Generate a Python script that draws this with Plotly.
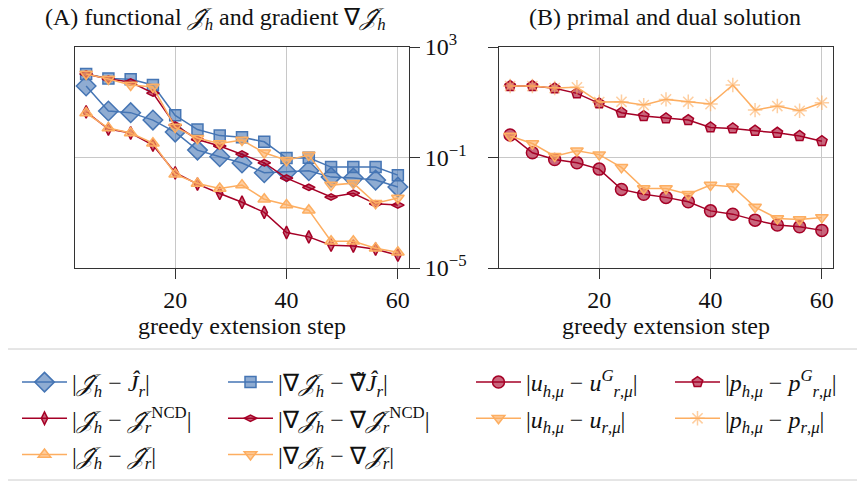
import plotly.graph_objects as go

steps = [4, 8, 12, 16, 20, 24, 28, 32, 36, 40, 44, 48, 52, 56, 60]

# Panel A: functional and gradient errors
J_r = [38.6, 4.8, 4.2, 2.26, 0.83, 0.185, 0.106, 0.063, 0.028, 0.030, 0.033, 0.0195, 0.018, 0.0152, 0.0085]
J_ncd = [4.5, 1.07, 0.77, 0.28, 0.028, 0.0109, 0.0050, 0.0024, 0.00103, 1.93e-4, 1.34e-4, 6.7e-5, 6.2e-5, 4.8e-5, 2.9e-5]
J_rr = [4.06, 1.16, 0.77, 0.33, 0.025, 0.0115, 0.0076, 0.010, 0.0031, 0.0019, 0.00124, 9.3e-5, 9.3e-5, 5.2e-5, 3.7e-5]
dJ_tilde = [105, 73, 68, 42, 3.35, 1.03, 0.62, 0.54, 0.37, 0.095, 0.097, 0.045, 0.045, 0.045, 0.023]
dJ_ncd = [105, 69, 54, 21.5, 1.49, 0.45, 0.26, 0.133, 0.064, 0.018, 0.0083, 0.0037, 0.0051, 0.0021, 0.0019]
dJ_rr = [105, 69, 42, 35.5, 1.26, 0.50, 0.32, 0.43, 0.148, 0.080, 0.122, 0.010, 0.0118, 0.0022, 0.0034]

# Panel B: primal and dual solution errors
u_G = [0.65, 0.148, 0.085, 0.064, 0.038, 0.0070, 0.0047, 0.0036, 0.0025, 0.00117, 8.9e-4, 5.4e-4, 3.6e-4, 3.1e-4, 2.3e-4]
u_r = [0.60, 0.32, 0.112, 0.175, 0.127, 0.044, 0.0076, 0.0076, 0.0047, 0.010, 0.0087, 0.0016, 6.2e-4, 5.7e-4, 6.8e-4]
p_G = [38.6, 38.6, 31.9, 21, 9.1, 4.2, 3.16, 2.6, 2.26, 1.23, 1.13, 0.93, 0.785, 0.60, 0.39]
p_r = [38.6, 38.6, 32.7, 34.7, 10.2, 10.4, 7.9, 12.7, 10.4, 8.6, 42, 5.2, 7.3, 4.9, 9.6]

y_tickvals = [1e-5, 1e-1, 1e3]
y_ticktext = ["10<sup>−5</sup>", "10<sup>−1</sup>", "10<sup>3</sup>"]
x_tickvals = [20, 40, 60]

BLUE = "#4575b4"
RED = "#a50026"
ORANGE = "#fdae61"
FONT = "Liberation Serif"
TXT = "#111"

JH = "<i>𝒥̂</i>"

def rgba(hex_color, a):
    h = hex_color.lstrip("#")
    return "rgba(%d,%d,%d,%.2f)" % (int(h[0:2], 16), int(h[2:4], 16), int(h[4:6], 16), a)

fig = go.Figure()

def add(y, name, color, symbol, size, xaxis, yaxis, legend, group, alpha=0.6, lw=1.5):
    fig.add_trace(go.Scatter(
        x=steps, y=y, name=name, mode="lines+markers",
        line=dict(color=color, width=lw),
        marker=dict(symbol=symbol, size=size, color=rgba(color, alpha),
                    line=dict(color=color, width=1.5)),
        xaxis=xaxis, yaxis=yaxis, legend=legend, legendgroup=group,
    ))

# Panel A
add(J_r, "|" + JH + "<sub><i>h</i></sub> − <i>Ĵ</i><sub><i>r</i></sub>|", BLUE, "diamond", 15, "x", "y", "legend", "a1")
add(dJ_tilde, "|∇" + JH + "<sub><i>h</i></sub> − ∇̃<i>Ĵ</i><sub><i>r</i></sub>|", BLUE, "square", 11, "x", "y", "legend2", "b1")
add(J_ncd, "|" + JH + "<sub><i>h</i></sub> − " + JH + "<sub><i>r</i></sub><sup>NCD</sup>|", RED, "diamond-tall", 9, "x", "y", "legend", "a2")
add(dJ_ncd, "|∇" + JH + "<sub><i>h</i></sub> − ∇" + JH + "<sub><i>r</i></sub><sup>NCD</sup>|", RED, "diamond-wide", 9, "x", "y", "legend2", "b2")
add(J_rr, "|" + JH + "<sub><i>h</i></sub> − " + JH + "<sub><i>r</i></sub>|", ORANGE, "triangle-up", 11, "x", "y", "legend", "a3")
add(dJ_rr, "|∇" + JH + "<sub><i>h</i></sub> − ∇" + JH + "<sub><i>r</i></sub>|", ORANGE, "triangle-down", 11, "x", "y", "legend2", "b3")

# Panel B
add(u_G, "|<i>u</i><sub><i>h</i>,<i>μ</i></sub> − <i>u</i><sup><i>G</i></sup><sub><i>r</i>,<i>μ</i></sub>|", RED, "circle", 12, "x2", "y2", "legend3", "c1")
add(u_r, "|<i>u</i><sub><i>h</i>,<i>μ</i></sub> − <i>u</i><sub><i>r</i>,<i>μ</i></sub>|", ORANGE, "triangle-down", 11, "x2", "y2", "legend3", "c2")
add(p_G, "|<i>p</i><sub><i>h</i>,<i>μ</i></sub> − <i>p</i><sup><i>G</i></sup><sub><i>r</i>,<i>μ</i></sub>|", RED, "pentagon", 11, "x2", "y2", "legend4", "d1")
add(p_r, "|<i>p</i><sub><i>h</i>,<i>μ</i></sub> − <i>p</i><sub><i>r</i>,<i>μ</i></sub>|", ORANGE, "asterisk-open", 12, "x2", "y2", "legend4", "d2")

# The page body adds an 8px offset; the figure fills the rest of the 865x489 window.
OFF = 8
W, H = 865 - OFF, 489 - OFF
def px(x):
    return (x - OFF) / W
def py(y):
    return 1 - (y - OFF) / H

axis_common = dict(
    showline=True, mirror=True, linecolor="#333", linewidth=1,
    ticks="outside", ticklen=10, tickcolor="#333",
    showgrid=True, gridcolor="#c8c8c8", gridwidth=1, zeroline=False,
    tickfont=dict(family=FONT, size=24, color=TXT),
)

xa = dict(axis_common, range=[2, 62], tickvals=x_tickvals,
          title=dict(text="greedy extension step", font=dict(family=FONT, size=24, color=TXT), standoff=4))
ya = dict(axis_common, type="log", range=[-5, 3], tickvals=y_tickvals, ticktext=y_ticktext)

legend_common = dict(
    font=dict(family=FONT, size=24, color=TXT),
    bgcolor="rgba(0,0,0,0)", borderwidth=0,
    xanchor="left", yanchor="top", y=py(360),
    itemwidth=45, tracegroupgap=2, traceorder="grouped",
)

fig.update_layout(
    width=W, height=H,
    margin=dict(l=0, r=0, t=0, b=0, autoexpand=False),
    paper_bgcolor="white", plot_bgcolor="white",
    showlegend=True,
    xaxis=dict(xa, domain=[px(75), px(409)], anchor="y"),
    yaxis=dict(ya, domain=[py(268), py(47)], anchor="x", side="right"),
    xaxis2=dict(xa, domain=[px(499), px(833)], anchor="y2"),
    yaxis2=dict(ya, domain=[py(268), py(47)], anchor="x2", side="left", showticklabels=False),
    legend=dict(legend_common, x=px(17)),
    legend2=dict(legend_common, x=px(223)),
    legend3=dict(legend_common, x=px(471)),
    legend4=dict(legend_common, x=px(670)),
    annotations=[
        dict(text="(A) functional " + JH + "<sub><i>h</i></sub> and gradient ∇" + JH + "<sub><i>h</i></sub>",
             x=px(215), y=py(19), xref="paper", yref="paper", xanchor="center", yanchor="middle",
             showarrow=False, font=dict(family=FONT, size=24, color=TXT)),
        dict(text="(B) primal and dual solution",
             x=px(665), y=py(17), xref="paper", yref="paper", xanchor="center", yanchor="middle",
             showarrow=False, font=dict(family=FONT, size=24, color=TXT)),
    ],
    shapes=[
        dict(type="rect", xref="paper", yref="paper", x0=px(7), x1=px(862), y0=py(480), y1=py(349),
             line=dict(color="#cccccc", width=1)),
    ],
)

fig.write_html("out.html")
